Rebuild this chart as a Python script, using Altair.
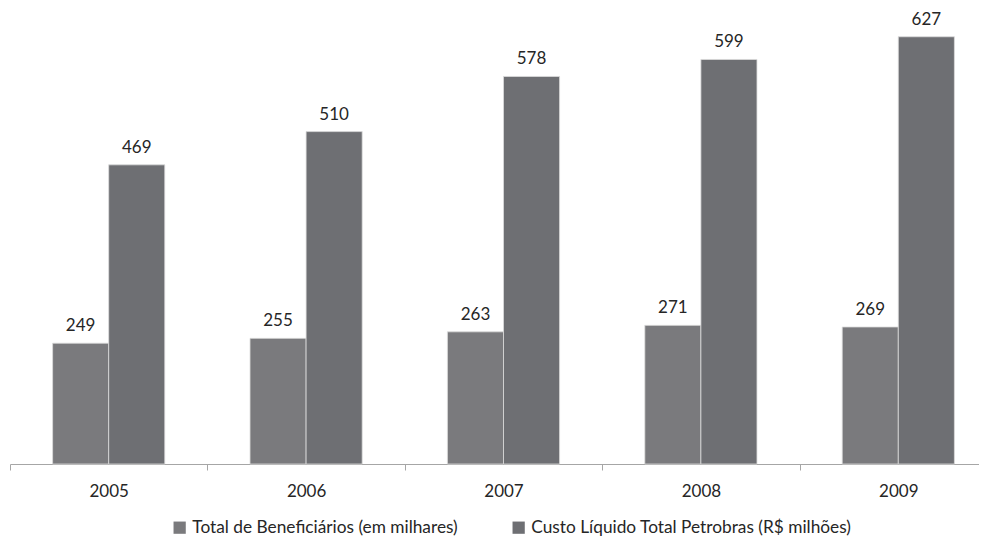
import altair as alt
import pandas as pd

years = ["2005", "2006", "2007", "2008", "2009"]
series = ["Total de Beneficiários (em milhares)", "Custo Líquido Total Petrobras (R$ milhões)"]
beneficiarios = [249, 255, 263, 271, 269]
custo = [469, 510, 578, 599, 627]
colors = ["#7a7a7d", "#6e6f73"]

rows = []
for i, y in enumerate(years):
    rows.append({"ano": y, "serie": series[0], "valor": beneficiarios[i]})
    rows.append({"ano": y, "serie": series[1], "valor": custo[i]})
df = pd.DataFrame(rows)

FONT = "Lato"
W, H = 969, 454
ymin, ymax = 100, 660

x = alt.X("ano:N", sort=years, title=None,
          scale=alt.Scale(paddingInner=0, paddingOuter=0, range=[0, 987]),
          axis=alt.Axis(labelAngle=0, tickBand="extent", domainColor="#a6a6a6",
                        tickColor="#a6a6a6", tickSize=6, labelPadding=13,
                        labelFont=FONT, labelFontSize=17, labelColor="#262626",
                        grid=False))
xo = alt.XOffset("serie:N", sort=series,
                 scale=alt.Scale(paddingInner=0, paddingOuter=0.76))
y = alt.Y("valor:Q", scale=alt.Scale(domain=[ymin, ymax], zero=False, nice=False), axis=None)

bars = alt.Chart(df).mark_bar(stroke="#dcdcdc", strokeWidth=0.8).encode(
    x=x, xOffset=xo, y=y, y2=alt.datum(ymin),
    color=alt.Color("serie:N", sort=series,
                    scale=alt.Scale(domain=series, range=colors),
                    legend=alt.Legend(title=None, orient="none", direction="horizontal",
                                      legendX=161, legendY=509, symbolType="square",
                                      symbolSize=150, symbolStrokeWidth=0,
                                      labelFont=FONT, labelFontSize=17.3, labelLimit=0,
                                      labelColor="#262626", columnPadding=52,
                                      symbolOffset=0, labelOffset=4)),
)

labels = alt.Chart(df).mark_text(dy=-8, baseline="bottom", font=FONT, fontSize=17,
                                 color="#262626").encode(
    x=x, xOffset=xo, y=y, text="valor:Q")

chart = alt.layer(bars, labels).properties(
    width=W, height=H,
    autosize=alt.AutoSizeParams(type="none"),
    padding={"left": 2, "top": 2, "right": 0, "bottom": 72},
).configure_view(stroke=None)

chart.save("out.html", embed_options={"renderer": "svg", "actions": False})
